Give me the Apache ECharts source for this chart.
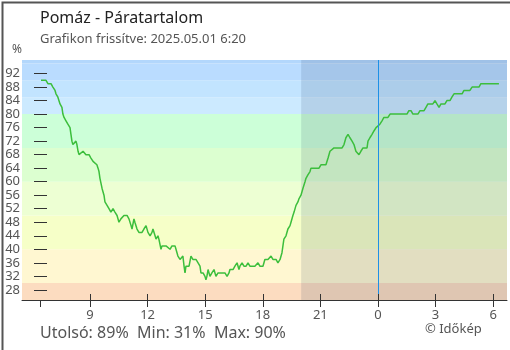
<!DOCTYPE html>
<html><head><meta charset="utf-8">
<script src="https://cdn.jsdelivr.net/npm/echarts@6/dist/echarts.min.js"></script>
<style>html,body{margin:0;padding:0;background:#fff}#c{width:510px;height:350px}</style>
</head><body><div id="c"></div>
<script>
const FONT = '"Noto Sans", "Open Sans", sans-serif';
const titleText = 'Pomáz - Páratartalom';
const subtitleText = 'Grafikon frissítve: 2025.05.01 6:20';
const unitText = '%';
const statsText = 'Utolsó: 89%  Min: 31%  Max: 90%';
const creditText = '© Időkép';

// hours since 2025-04-30 00:00
const hours = [
  6.45,6.71,6.81,6.97,7.07,7.18,7.23,7.33,7.44,7.54,
  7.59,7.65,7.75,7.85,7.96,8.01,8.06,8.11,8.27,8.32,
  8.38,8.43,8.53,8.64,8.74,8.79,8.95,9.05,9.16,9.26,
  9.36,9.42,9.47,9.52,9.63,9.73,9.78,9.89,9.99,10.09,
  10.2,10.3,10.41,10.51,10.61,10.77,10.93,11.03,11.14,11.19,
  11.29,11.34,11.45,11.55,11.71,11.81,11.92,12.02,12.13,12.23,
  12.28,12.39,12.44,12.54,12.59,12.7,12.75,12.96,13.06,13.17,
  13.27,13.43,13.48,13.58,13.69,13.79,13.84,13.9,13.95,14.0,
  14.05,14.16,14.26,14.36,14.52,14.63,14.73,14.78,14.89,14.99,
  15.04,15.09,15.15,15.25,15.35,15.46,15.56,15.67,16.03,16.14,
  16.24,16.29,16.45,16.55,16.66,16.76,16.81,16.92,17.02,17.13,
  17.23,17.33,17.44,17.59,17.75,17.85,18.01,18.11,18.27,18.43,
  18.53,18.69,18.79,18.9,19.0,19.05,19.1,19.21,19.31,19.42,
  19.47,19.57,19.63,19.73,19.83,19.89,19.99,20.09,20.2,20.25,
  20.35,20.46,20.51,20.93,21.03,21.29,21.4,21.5,21.6,21.71,
  22.13,22.23,22.33,22.44,22.54,22.65,22.75,22.85,23.01,23.11,
  23.22,23.43,23.48,23.58,23.69,23.79,23.9,24.0,24.1,24.21,
  24.31,24.52,24.63,25.51,25.61,25.72,25.82,25.93,26.08,26.19,
  26.4,26.5,26.6,26.86,26.97,27.07,27.18,27.28,27.49,27.59,
  27.75,27.85,27.96,28.38,28.48,28.79,28.9,29.26,29.36,30.3
];
const humidity = [
  90,90,89,89,88,87,86,85,83,82,
  80,79,78,77,76,74,72,71,72,71,
  69,68,68,69,69,68,68,67,66,66,
  65,64,63,61,58,56,54,53,52,51,
  52,51,50,48,49,50,50,49,47,46,
  49,48,46,45,45,46,47,45,44,45,
  46,44,43,44,43,40,41,41,41,40,
  41,41,40,38,37,37,38,35,33,35,
  35,35,38,37,37,36,35,33,33,32,
  31,32,34,32,33,34,32,33,33,32,
  33,34,34,35,36,34,35,36,35,35,
  36,35,35,35,36,35,35,37,37,38,
  37,37,36,37,39,41,43,44,46,47,
  48,50,51,53,54,55,56,58,60,61,
  62,63,64,64,65,65,67,69,69,70,
  70,71,73,74,73,72,71,69,68,69,
  70,70,72,73,74,75,76,76,77,78,
  79,79,80,80,81,81,80,80,80,81,
  81,82,83,83,84,83,82,83,83,84,
  84,85,86,86,87,87,88,88,89,89
];

const xTickHours = [9, 12, 15, 18, 21, 24, 27, 30];
const xOuterTicks = [6.42, 9, 12, 15, 18, 21, 24, 27, 30];
const yTickValues = [28, 32, 36, 40, 44, 48, 52, 56, 60, 64, 68, 72, 76, 80, 84, 88, 92];
const bandEdges = [25, 30, 40, 50, 60, 70, 80, 85, 90, 95, 96];
const bandColors = ['#fcdcc0', '#fff7d1', '#f6ffc8', '#edffd3', '#dcffd0', '#ccffd8', '#cceaff', '#c2e4ff', '#badcff', '#b3d7fc'];
const nightStart = 20.0;
const midnightHour = 24;

const xMin = 5.46, xMax = 30.72, yMin = 25, yMax = 96;

const bandAreas = bandColors.map((c, i) => [
  { yAxis: bandEdges[i], itemStyle: { color: c } },
  { yAxis: bandEdges[i + 1] }
]);
bandAreas.push([
  { xAxis: nightStart, itemStyle: { color: 'rgba(20,40,80,0.12)' } },
  { xAxis: xMax }
]);

const lineData = hours.map((h, i) => [h, humidity[i]]);

const chart = echarts.init(document.getElementById('c'), null, { renderer: 'canvas' });
chart.setOption({
  animation: false,
  backgroundColor: '#fff',
  textStyle: { fontFamily: FONT },
  grid: { left: 22, right: 3, top: 60, bottom: 50, containLabel: false },
  xAxis: [{
    type: 'value', min: xMin, max: xMax, z: 10,
    axisLine: { show: true, lineStyle: { color: '#333', width: 1 } },
    axisTick: { show: true, inside: true, length: 6, customValues: xTickHours, lineStyle: { color: '#333' } },
    axisLabel: { show: true, customValues: xTickHours, formatter: v => String(Math.round(v) % 24), color: '#555', fontSize: 13, fontFamily: FONT, margin: 9 },
    splitLine: { show: false }
  }, {
    type: 'value', min: xMin, max: xMax, position: 'bottom', z: 10,
    axisLine: { show: false },
    axisTick: { show: true, inside: false, length: 7, customValues: xOuterTicks, lineStyle: { color: '#333' } },
    axisLabel: { show: false },
    splitLine: { show: false }
  }],
  yAxis: [{
    type: 'value', min: yMin, max: yMax,
    axisLine: { show: false }, axisTick: { show: false },
    axisLabel: { show: true, customValues: yTickValues, color: '#555', fontSize: 13, fontFamily: FONT, margin: 2 },
    splitLine: { show: false }
  }, {
    type: 'value', min: yMin, max: yMax, position: 'left', offset: -12, z: 10,
    axisLine: { show: false },
    axisTick: { show: true, inside: true, length: 13, customValues: yTickValues, lineStyle: { color: '#333', width: 1 } },
    axisLabel: { show: false },
    splitLine: { show: false }
  }],
  series: [{
    type: 'line', xAxisIndex: 0, yAxisIndex: 0, z: 1,
    data: lineData, symbol: 'none', silent: true,
    lineStyle: { opacity: 0 },
    markArea: { silent: true, data: bandAreas }
  }, {
    type: 'line', xAxisIndex: 0, yAxisIndex: 0, z: 3,
    data: lineData, symbol: 'none', silent: true,
    lineStyle: { color: '#3cbe3c', width: 1.5 },
    markLine: {
      silent: true, symbol: 'none', label: { show: false },
      lineStyle: { color: '#1e90e6', width: 1, type: 'solid' },
      data: [{ xAxis: midnightHour }]
    }
  }],
  graphic: [
    { type: 'text', left: 40, top: 10, style: { text: titleText, fill: '#222', font: '16px ' + FONT } },
    { type: 'text', left: 40, top: 33, style: { text: subtitleText, fill: '#555', font: '13px ' + FONT } },
    { type: 'text', left: 12, top: 44, style: { text: unitText, fill: '#555', font: '12px ' + FONT } },
    { type: 'text', left: 40, top: 325, style: { text: statsText, fill: '#555', font: '16px ' + FONT } },
    { type: 'text', left: 425, top: 323, style: { text: creditText, fill: '#555', font: '13px ' + FONT } },
    { type: 'rect', left: 0, top: 0, z: 100, shape: { x: 0, y: 0, width: 509, height: 349 }, style: { fill: 'none', stroke: '#555', lineWidth: 2 } }
  ]
});
</script>
</body></html>
